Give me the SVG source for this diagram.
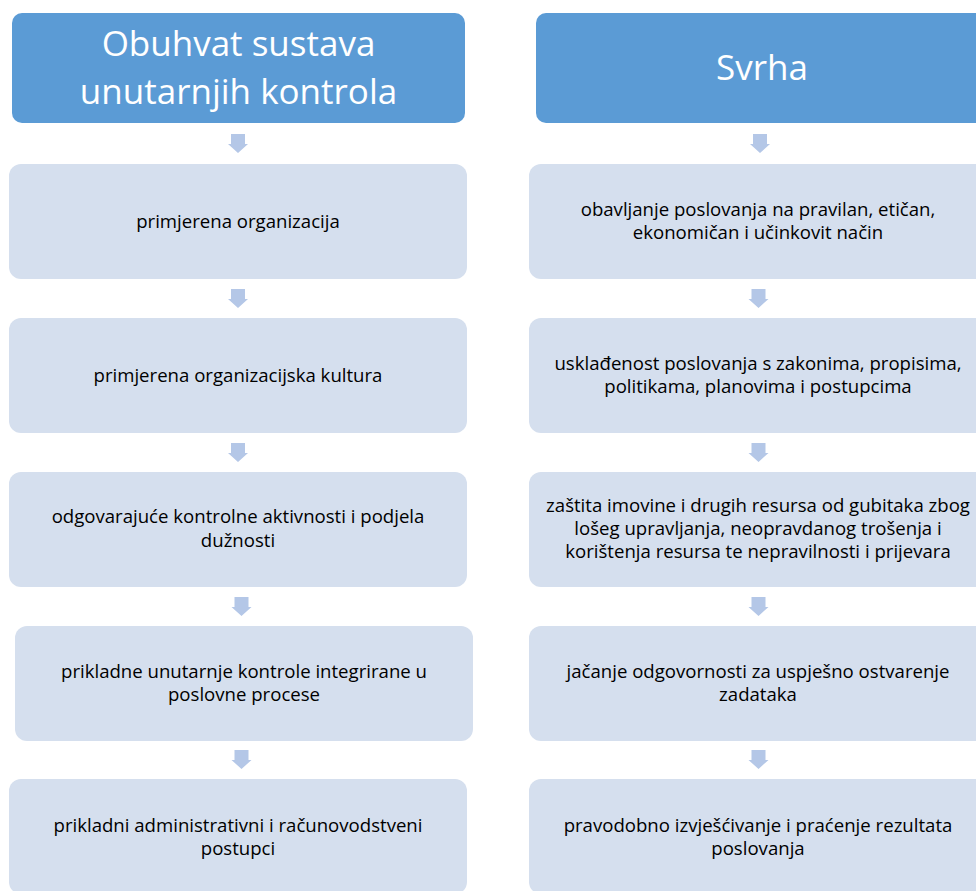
<svg xmlns="http://www.w3.org/2000/svg" width="976" height="891" viewBox="0 0 976 891">
<defs>
<style>
.hdr{fill:#5B9BD5;}
.box{fill:#D5DFEE;}
.arr{fill:#B4C7E7;}
.ht{font-family:"Open Sans","Noto Sans",sans-serif;font-size:35px;fill:#FFFFFF;text-anchor:middle;}
.bt{font-family:"Open Sans","Noto Sans",sans-serif;font-size:18.6px;fill:#000000;text-anchor:middle;}
</style>
<path id="arrow" d="M -7 0 H 7 V 10 H 10 L 0 19 L -10 10 H -7 Z"/>
</defs>
<rect width="976" height="891" fill="#FFFFFF"/>
<g id="connectors" class="arr">
<use href="#arrow" x="238" y="134"/>
<use href="#arrow" x="238" y="289"/>
<use href="#arrow" x="238" y="443"/>
<use href="#arrow" x="241.5" y="597"/>
<use href="#arrow" x="241.5" y="750"/>
<use href="#arrow" x="760" y="134"/>
<use href="#arrow" x="758.5" y="289"/>
<use href="#arrow" x="758.5" y="443"/>
<use href="#arrow" x="758.5" y="597"/>
<use href="#arrow" x="758.5" y="750"/>
</g>
<g id="hdr-left">
<rect class="hdr" x="12" y="13" width="453" height="110" rx="10"/>
<text class="ht" x="238.5" y="56">Obuhvat sustava</text>
<text class="ht" x="238.5" y="104">unutarnjih kontrola</text>
</g>
<g id="hdr-right">
<rect class="hdr" x="536" y="13" width="454" height="110" rx="10"/>
<text class="ht" x="762" y="80">Svrha</text>
</g>
<g id="l1">
<rect class="box" x="9" y="164" width="458" height="115" rx="12"/>
<text class="bt" x="238" y="228">primjerena organizacija</text>
</g>
<g id="l2">
<rect class="box" x="9" y="318" width="458" height="115" rx="12"/>
<text class="bt" x="238" y="382">primjerena organizacijska kultura</text>
</g>
<g id="l3">
<rect class="box" x="9" y="472" width="458" height="115" rx="12"/>
<text class="bt" x="238" y="523">odgovarajuće kontrolne aktivnosti i podjela</text>
<text class="bt" x="238" y="547">dužnosti</text>
</g>
<g id="l4">
<rect class="box" x="15" y="626" width="458" height="115" rx="12"/>
<text class="bt" x="244" y="678">prikladne unutarnje kontrole integrirane u</text>
<text class="bt" x="244" y="701">poslovne procese</text>
</g>
<g id="l5">
<rect class="box" x="9" y="779" width="458" height="115" rx="12"/>
<text class="bt" x="238" y="832">prikladni administrativni i računovodstveni</text>
<text class="bt" x="238" y="855">postupci</text>
</g>
<g id="r1">
<rect class="box" x="529" y="164" width="460" height="115" rx="12"/>
<text class="bt" x="758" y="216">obavljanje poslovanja na pravilan, etičan,</text>
<text class="bt" x="758" y="239">ekonomičan i učinkovit način</text>
</g>
<g id="r2">
<rect class="box" x="529" y="318" width="460" height="115" rx="12"/>
<text class="bt" x="758" y="370">usklađenost poslovanja s zakonima, propisima,</text>
<text class="bt" x="758" y="393">politikama, planovima i postupcima</text>
</g>
<g id="r3">
<rect class="box" x="529" y="472" width="460" height="115" rx="12"/>
<text class="bt" x="758" y="512">zaštita imovine i drugih resursa od gubitaka zbog</text>
<text class="bt" x="758" y="535">lošeg upravljanja, neopravdanog trošenja i</text>
<text class="bt" x="758" y="558">korištenja resursa te nepravilnosti i prijevara</text>
</g>
<g id="r4">
<rect class="box" x="529" y="626" width="460" height="115" rx="12"/>
<text class="bt" x="758" y="678">jačanje odgovornosti za uspješno ostvarenje</text>
<text class="bt" x="758" y="701">zadataka</text>
</g>
<g id="r5">
<rect class="box" x="529" y="779" width="460" height="115" rx="12"/>
<text class="bt" x="758" y="832">pravodobno izvješćivanje i praćenje rezultata</text>
<text class="bt" x="758" y="855">poslovanja</text>
</g>
</svg>
